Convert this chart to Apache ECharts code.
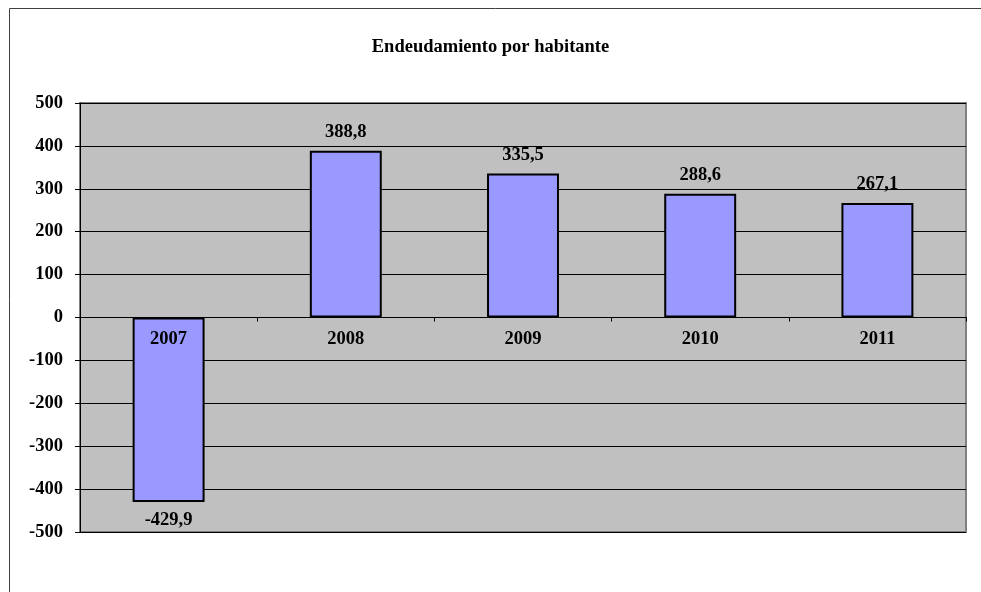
<!DOCTYPE html>
<html>
<head>
<meta charset="utf-8">
<script src="https://cdn.jsdelivr.net/npm/echarts@6/dist/echarts.min.js"></script>
<style>
html,body{margin:0;padding:0;background:#fff;}
#chart{width:981px;height:592px;}
</style>
</head>
<body>
<div id="chart"></div>
<script>
const titleText = 'Endeudamiento por habitante';
const categories = ['2007', '2008', '2009', '2010', '2011'];
const values = [-429.9, 388.8, 335.5, 288.6, 267.1];
const yMin = -500, yMax = 500, yStep = 100;

const FONT = "'Liberation Serif', 'Times New Roman', serif";
const FS = 18.5;
const gridTop = 103, gridBottom = 60, chartH = 592;
const plotH = chartH - gridTop - gridBottom;
const zeroOffset = -plotH * (0 - yMin) / (yMax - yMin);

const chart = echarts.init(document.getElementById('chart'), null, {renderer: 'canvas'});

const seriesData = values.map(v => ({
  value: v,
  label: { position: v < 0 ? 'bottom' : 'top' }
}));

chart.setOption({
  animation: false,
  backgroundColor: '#ffffff',
  title: {
    text: titleText,
    left: 'center',
    top: 33,
    textStyle: { fontFamily: FONT, fontWeight: 'bold', fontSize: FS, color: '#000' }
  },
  graphic: [{
    type: 'rect',
    shape: { x: 9.5, y: 8.5, width: 1100, height: 700 },
    style: { fill: 'none', stroke: '#404040', lineWidth: 1 },
    silent: true
  }],
  grid: {
    left: 80, right: 15, top: gridTop, bottom: gridBottom,
    show: true,
    backgroundColor: '#C0C0C0',
    borderColor: '#808080',
    borderWidth: 2
  },
  xAxis: {
    type: 'category',
    data: categories,
    offset: zeroOffset,
    z: 10,
    axisLine: { onZero: false, lineStyle: { color: '#000', width: 1 } },
    axisTick: { show: true, length: 4, inside: false, lineStyle: { color: '#000' } },
    axisLabel: { margin: 12, fontFamily: FONT, fontWeight: 'bold', fontSize: FS, color: '#000' },
    splitLine: { show: false }
  },
  yAxis: {
    type: 'value',
    min: yMin, max: yMax, interval: yStep,
    axisLine: { show: true, lineStyle: { color: '#000', width: 1 } },
    axisTick: { show: true, length: 5, lineStyle: { color: '#000' } },
    axisLabel: {
      margin: 17, fontFamily: FONT, fontWeight: 'bold', fontSize: FS, color: '#000',
      formatter: v => String(v)
    },
    splitLine: { show: true, lineStyle: { color: '#000', width: 1 } }
  },
  series: [{
    type: 'bar',
    data: seriesData,
    barWidth: '40.6%',
    itemStyle: { color: '#9999FF', borderColor: '#000', borderWidth: 2 },
    label: {
      show: true,
      distance: 9,
      fontFamily: FONT, fontWeight: 'bold', fontSize: FS, color: '#000',
      formatter: p => p.value.toFixed(1).replace('.', ',')
    }
  }]
});
</script>
</body>
</html>
